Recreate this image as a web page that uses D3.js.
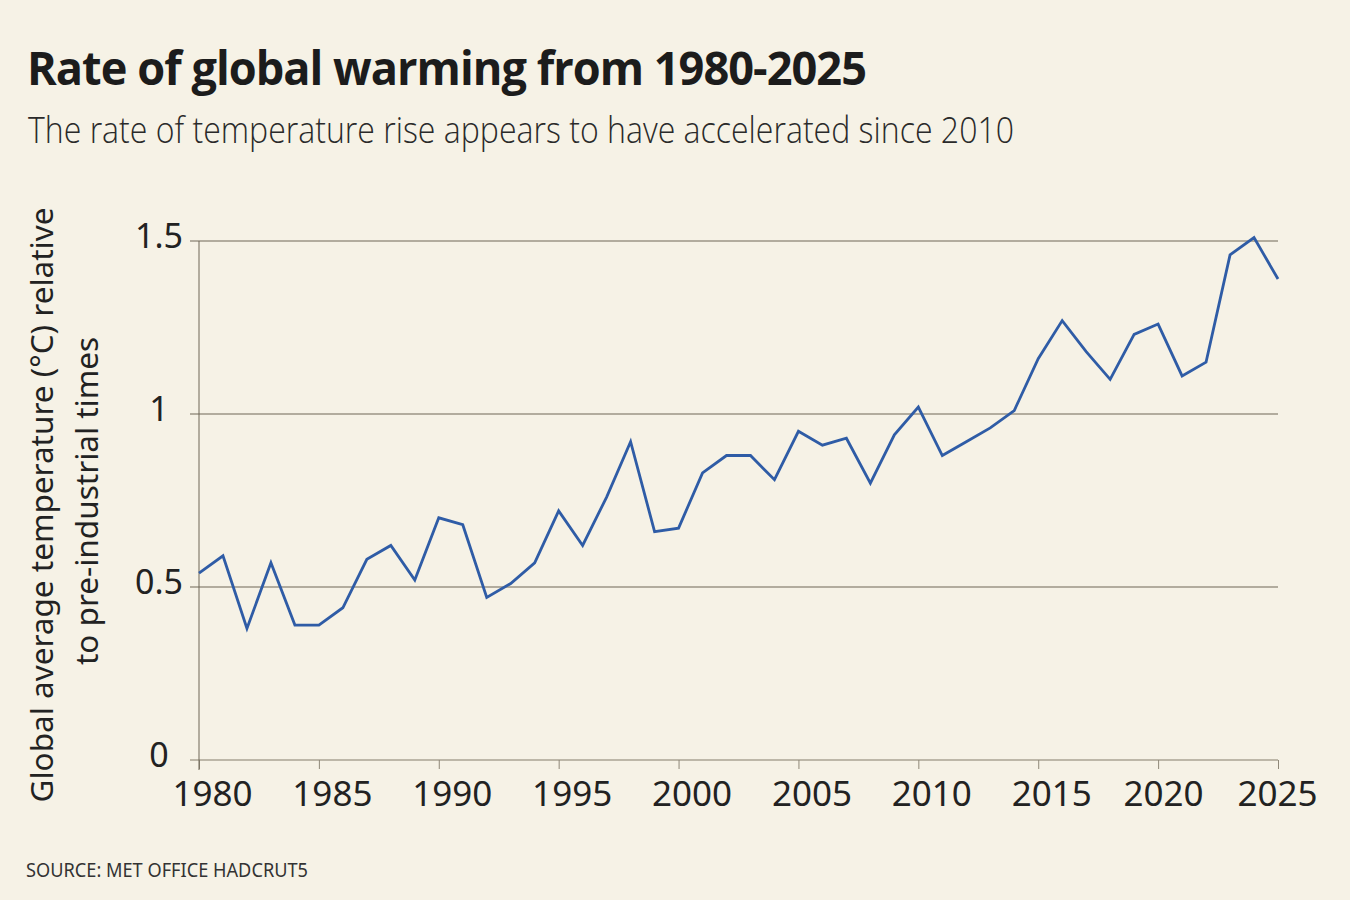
<!DOCTYPE html>
<html>
<head>
<meta charset="utf-8">
<script src="https://cdn.jsdelivr.net/npm/d3@7"></script>
<style>
  html, body { margin: 0; padding: 0; background: #f6f2e6; }
  svg { display: block; }
</style>
</head>
<body>
<div id="chart"></div>
<script>
const years = d3.range(1980, 2026);
const anomalies = [
  0.54, 0.59, 0.38, 0.57, 0.39, 0.39, 0.44, 0.58, 0.62, 0.52,
  0.70, 0.68, 0.47, 0.51, 0.57, 0.72, 0.62, 0.76, 0.92, 0.66,
  0.67, 0.83, 0.88, 0.88, 0.81, 0.95, 0.91, 0.93, 0.80, 0.94,
  1.02, 0.88, 0.92, 0.96, 1.01, 1.16, 1.27, 1.18, 1.10, 1.23,
  1.26, 1.11, 1.15, 1.46, 1.51, 1.39
];
const xTicks = [1980, 1985, 1990, 1995, 2000, 2005, 2010, 2015, 2020, 2025];
const yTicks = [0, 0.5, 1, 1.5];
const yTickLabels = ["0", "0.5", "1", "1.5"];
const titleText = "Rate of global warming from 1980-2025";
const subtitleText = "The rate of temperature rise appears to have accelerated since 2010";
const yLabelLines = ["Global average temperature (°C) relative", "to pre-industrial times"];
const sourceText = "SOURCE: MET OFFICE HADCRUT5";

const W = 1350, H = 900;
const svg = d3.select("#chart").append("svg").attr("width", W).attr("height", H);
svg.append("rect").attr("width", W).attr("height", H).attr("fill", "#f6f2e6");

const x = d3.scaleLinear().domain([1980, 2025]).range([199, 1278]);
const y = d3.scaleLinear().domain([0, 1.5]).range([760, 241]);

function fit(sel, target) {
  const len = sel.node().getComputedTextLength();
  if (Math.abs(len - target) > 2) sel.attr("textLength", target).attr("lengthAdjust", "spacingAndGlyphs");
}

// Title
const t = svg.append("text").attr("x", 27).attr("y", 85)
  .attr("font-family", "'Open Sans', sans-serif").attr("font-weight", 700)
  .attr("font-size", 46).attr("fill", "#1c1c1c").attr("letter-spacing", -1)
  .text(titleText);
fit(t, 839);

const st = svg.append("text").attr("x", 28).attr("y", 143)
  .attr("font-family", "'Open Sans', sans-serif").attr("font-weight", 300)
  .attr("font-size", 36).attr("fill", "#2a2a2a")
  .text(subtitleText);
fit(st, 986);

// Gridlines
const grid = svg.append("g");
grid.selectAll("line").data(yTicks.filter(d => d > 0)).join("line")
  .attr("x1", 190).attr("x2", 1278)
  .attr("y1", d => y(d)).attr("y2", d => y(d))
  .attr("stroke", "#6e6656").attr("stroke-width", 1);

// Bottom axis
const xAxis = svg.append("g").attr("transform", "translate(0,760)")
  .call(d3.axisBottom(x).tickValues(xTicks).tickFormat(d3.format("d")).tickSize(9).tickSizeOuter(0));
xAxis.select(".domain").attr("stroke", "#aaa393").attr("stroke-width", 1.5)
  .attr("d", `M190,0H1278`);
xAxis.selectAll(".tick line").attr("stroke", "#8f8878");
// label placement offsets relative to tick (layout only)
const labelShift = d => d === 2025 ? -1 : d === 2020 ? 5 : 13;
xAxis.selectAll(".tick text").attr("y", 46).attr("dy", 0)
  .attr("dx", d => labelShift(d))
  .attr("font-family", "'Noto Sans', sans-serif").attr("font-size", 35).attr("fill", "#222");

// Left axis
const yAxis = svg.append("g").attr("transform", "translate(199,0)")
  .call(d3.axisLeft(y).tickValues(yTicks).tickFormat((d, i) => yTickLabels[i]).tickSize(0).tickSizeOuter(0));
yAxis.select(".domain").attr("stroke", "#6e6656").attr("stroke-width", 1)
  .attr("d", "M0,241V770");
yAxis.selectAll(".tick text").attr("x", -40).attr("dy", 0).attr("y", 6.5)
  .attr("text-anchor", "middle")
  .attr("font-family", "'Noto Sans', sans-serif").attr("font-size", 34).attr("fill", "#222");

// Y label
const yl = svg.append("text")
  .attr("transform", "translate(0,505) rotate(-90)")
  .attr("text-anchor", "middle")
  .attr("font-family", "'Noto Sans', sans-serif").attr("font-size", 31.5).attr("fill", "#222");
yl.selectAll("tspan").data(yLabelLines).join("tspan")
  .attr("x", (d, i) => i === 0 ? 0 : 4).attr("y", (d, i) => 53 + i * 45)
  .text(d => d);

// Line
const line = d3.line().x((d, i) => x(years[i])).y(d => y(d));
svg.append("path").datum(anomalies)
  .attr("d", line).attr("fill", "none")
  .attr("stroke", "#2f5ca6").attr("stroke-width", 2.8)
  .attr("stroke-linejoin", "miter");

// Source
const src = svg.append("text").attr("x", 26).attr("y", 877)
  .attr("font-family", "'Noto Sans', sans-serif").attr("font-size", 19)
  .attr("fill", "#333")
  .text(sourceText);
fit(src, 282);
</script>
</body>
</html>
